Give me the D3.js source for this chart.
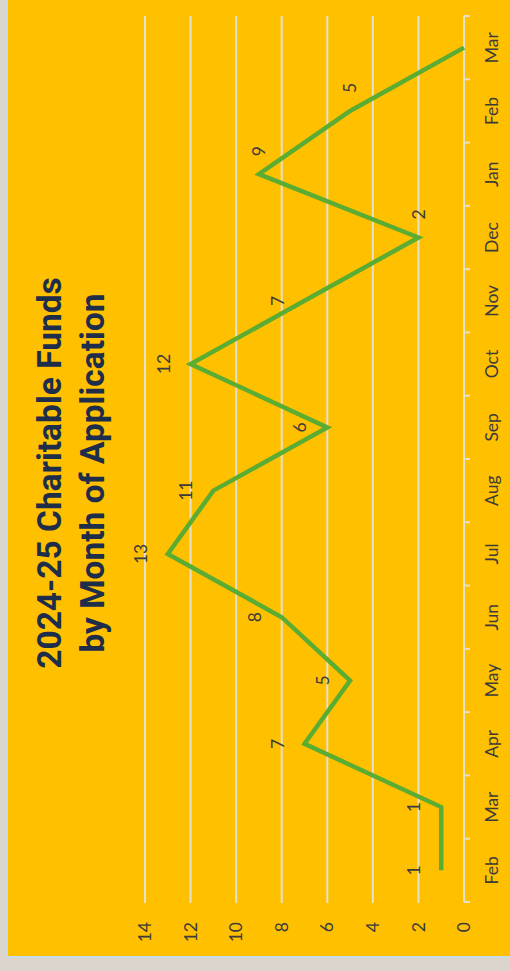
<!DOCTYPE html>
<html>
<head>
<meta charset="utf-8">
<script src="https://cdn.jsdelivr.net/npm/d3@7"></script>
<style>
  html, body { margin: 0; padding: 0; background: #dbd5cb; }
  svg { display: block; }
</style>
</head>
<body>
<div id="chart"></div>
<script>
// data (month of application -> number of funds)
const months = ["Feb", "Mar", "Apr", "May", "Jun", "Jul", "Aug", "Sep", "Oct", "Nov", "Dec", "Jan", "Feb", "Mar"];
const counts = [1, 1, 7, 5, 8, 13, 11, 6, 12, 7, 2, 9, 5, 0];
// where each data label sits (null = no label)
const labelSide = ["above", "above", "above", "above", "above", "above", "above", "above", "above", "above", "right", "right", "right", null];
const valueTicks = [0, 2, 4, 6, 8, 10, 12, 14];
const titleLines = ["2024-25 Charitable Funds", "by Month of Application"];

const pageW = 510, pageH = 971;
// the chart is drawn upright and then turned a quarter turn to the left
const W = pageH, H = pageW;

const svg = d3.select("#chart").append("svg")
    .attr("width", pageW)
    .attr("height", pageH);

svg.append("rect").attr("width", pageW).attr("height", pageH).attr("fill", "#dbd5cb");
svg.append("rect").attr("x", 6).attr("y", -2).attr("width", pageW).attr("height", 960).attr("fill", "#c9dbe6");
svg.append("rect").attr("x", 8).attr("y", 0).attr("width", pageW).attr("height", 956).attr("fill", "#ffc000");

const g = svg.append("g").attr("transform", `translate(0,${pageH}) rotate(-90)`);

const x = d3.scaleBand().domain(d3.range(months.length)).range([69, 955]);
const xc = i => x(i) + x.bandwidth() / 2;
const y = d3.scaleLinear().domain([0, 14]).range([464, 145]);

// gridlines
g.selectAll(".grid")
    .data(valueTicks.filter(v => v > 0))
    .join("line")
    .attr("class", "grid")
    .attr("x1", 68).attr("x2", 955)
    .attr("y1", d => y(d)).attr("y2", d => y(d))
    .attr("stroke", "#e6e0cc")
    .attr("stroke-width", 2);

// category axis line + ticks between months
g.append("line")
    .attr("x1", 69).attr("x2", 955)
    .attr("y1", y(0)).attr("y2", y(0))
    .attr("stroke", "#e6e0cc")
    .attr("stroke-width", 2);

g.selectAll(".tick")
    .data(d3.range(months.length + 1))
    .join("line")
    .attr("class", "tick")
    .attr("x1", d => d < months.length ? x(d) : x.range()[1])
    .attr("x2", d => d < months.length ? x(d) : x.range()[1])
    .attr("y1", y(0)).attr("y2", y(0) + 6)
    .attr("stroke", "#e6e0cc")
    .attr("stroke-width", 2);

g.selectAll(".month")
    .data(months)
    .join("text")
    .attr("class", "month")
    .attr("x", (d, i) => xc(i))
    .attr("y", 498)
    .attr("text-anchor", "middle")
    .attr("font-family", "Lato, 'Open Sans', sans-serif")
    .attr("font-size", 17.5)
    .attr("fill", "#3c3c3c")
    .text(d => d);

g.selectAll(".vlabel")
    .data(valueTicks)
    .join("text")
    .attr("class", "vlabel")
    .attr("x", 49)
    .attr("y", d => y(d))
    .attr("dy", "0.35em")
    .attr("text-anchor", "end")
    .attr("font-family", "Lato, 'Open Sans', sans-serif")
    .attr("font-size", 17.5)
    .attr("fill", "#3c3c3c")
    .text(d => d);

// the line
const line = d3.line()
    .x((d, i) => xc(i))
    .y(d => y(d));

g.append("path")
    .datum(counts)
    .attr("d", line)
    .attr("fill", "none")
    .attr("stroke", "#5aad32")
    .attr("stroke-width", 4.5)
    .attr("stroke-linejoin", "miter");

// data labels
g.selectAll(".dlabel")
    .data(counts.map((v, i) => ({ v, i, side: labelSide[i] })).filter(d => d.side))
    .join("text")
    .attr("class", "dlabel")
    .attr("x", d => d.side === "right" ? xc(d.i) + 18 : xc(d.i))
    .attr("y", d => d.side === "right" ? y(d.v) : y(d.v) - 27)
    .attr("dy", "0.35em")
    .attr("text-anchor", d => d.side === "right" ? "start" : "middle")
    .attr("font-family", "Lato, 'Open Sans', sans-serif")
    .attr("font-size", 17.5)
    .attr("fill", "#3c3c3c")
    .text(d => d.v);

// title
g.selectAll(".title")
    .data(titleLines)
    .join("text")
    .attr("class", "title")
    .attr("x", 498)
    .attr("y", (d, i) => i === 0 ? 61 : 104)
    .attr("text-anchor", "middle")
    .attr("font-family", "Roboto, 'Liberation Sans', sans-serif")
    .attr("font-weight", "bold")
    .attr("font-size", 33.5)
    .attr("fill", "#1d2d4a")
    .text(d => d);
</script>
</body>
</html>
